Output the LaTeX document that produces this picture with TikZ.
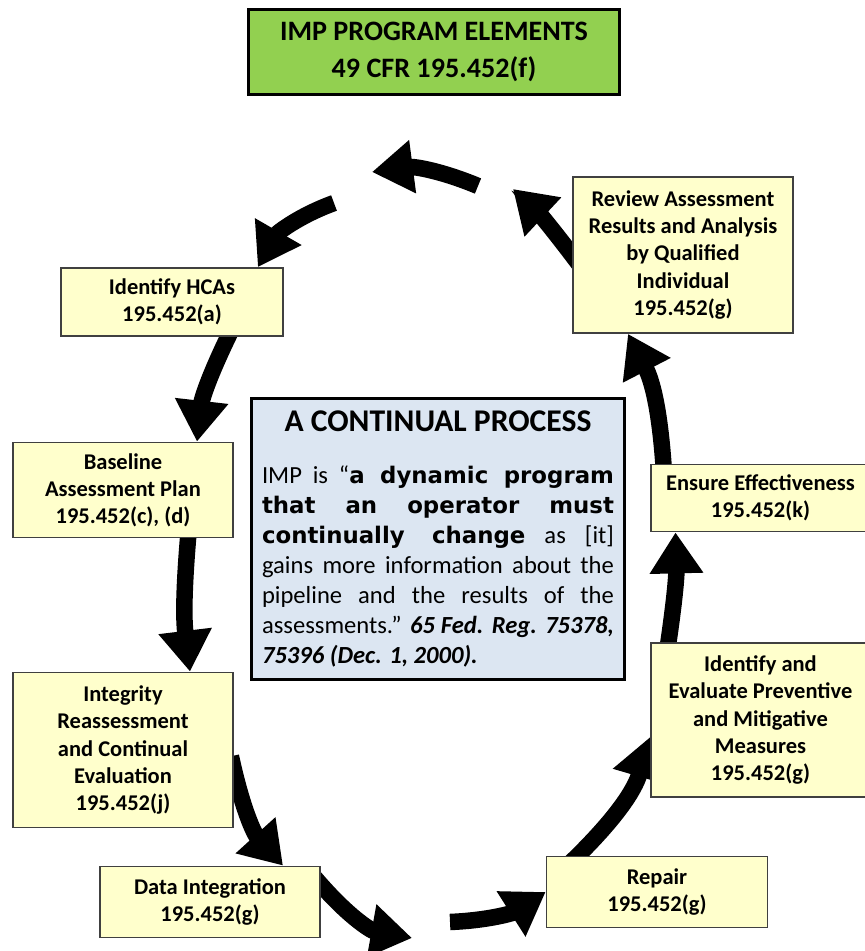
\documentclass[tikz,border=0pt]{standalone}
\usepackage{fontspec}
\setmainfont{Carlito}
\newfontfamily\quotefont{DejaVu Sans}
\usepackage{xcolor}
\usetikzlibrary{arrows.meta,calc,backgrounds}

\definecolor{elemgreen}{HTML}{92D050}
\definecolor{stepyellow}{HTML}{FFFFCC}
\definecolor{noteblue}{HTML}{DCE6F2}
\definecolor{stepedge}{HTML}{404040}

\begin{document}
\begin{tikzpicture}[x=0.02cm, y=-0.02cm,
		stepbox/.style={draw=stepedge, line width=1pt, fill=stepyellow, align=center, inner sep=2pt,
			font=\fontsize{12.8}{15.4}\selectfont\bfseries},
		looparrow/.style={line width=0.33cm, -{Triangle[width=1.02cm, length=0.82cm]}},
		fromnode/.style={shorten <=-8pt}]
		\useasboundingbox (0,0) rectangle (865,951);
		% heading
		\node[draw=black, line width=1.7pt, fill=elemgreen, minimum width=7.44cm, minimum height=1.7cm,
			align=center, font=\fontsize{16}{21}\selectfont\bfseries] (head) at (434,52)
			{IMP PROGRAM ELEMENTS\\49 CFR 195.452(f)};
		% program elements
		\node[stepbox, minimum width=4.4cm, minimum height=3.12cm] (review) at (683,255)
			{Review Assessment\\Results and Analysis\\by Qualified\\Individual\\195.452(g)};
		\node[stepbox, minimum width=4.44cm, minimum height=1.36cm] (hca) at (172,302)
			{Identify HCAs\\195.452(a)};
		\node[stepbox, minimum width=4.4cm, minimum height=1.9cm] (base) at (123,490)
			{Baseline\\Assessment Plan\\195.452(c), (d)};
		\node[stepbox, minimum width=4.4cm, minimum height=3.1cm] (integ) at (123,750)
			{Integrity\\Reassessment\\and Continual\\Evaluation\\195.452(j)};
		\node[stepbox, minimum width=4.4cm, minimum height=1.42cm] (data) at (210,902)
			{Data Integration\\195.452(g)};
		\node[stepbox, minimum width=4.42cm, minimum height=1.42cm] (repair) at (657,892)
			{Repair\\195.452(g)};
		\node[stepbox, minimum width=4.38cm, minimum height=3.08cm] (ie) at (760.5,720)
			{Identify and\\Evaluate Preventive\\and Mitigative\\Measures\\195.452(g)};
		\node[stepbox, minimum width=4.38cm, minimum height=1.34cm] (ens) at (760.5,498)
			{Ensure Effectiveness\\195.452(k)};
		% centre note
		\node[draw=black, line width=1.7pt, fill=noteblue, text width=7.04cm, inner xsep=0.21cm,
			minimum height=5.64cm, align=justify, font=\fontsize{14}{17.07}\selectfont] (note) at (438,539)
			{{\centering\bfseries\fontsize{18}{22}\selectfont A CONTINUAL PROCESS\par}\vspace{12.6pt}
			IMP is “{\quotefont\bfseries\fontsize{13}{17}\selectfont a dynamic program\linebreak
			that an operator must\linebreak continually change} as [it]\linebreak
			gains more information about the\linebreak pipeline and the results of the\linebreak
			assessments.” {\bfseries\itshape 65 Fed. Reg. 75378,\linebreak 75396 (Dec. 1, 2000).}};
		% free ends of the loop
		\coordinate (tipnw) at (513,189);
		\coordinate (topstart) at (478,186);
		\coordinate (topend) at (372,172);
		\coordinate (leftstart) at (334,203);
		\coordinate (bottomend) at (412,938);
		\coordinate (bottomstart) at (450,922);
		\begin{scope}[on background layer]
			\draw[looparrow, fromnode] (review.west) to[bend right=5] (tipnw);
			\draw[looparrow] (topstart) to[bend right=15] (topend);
			\draw[looparrow] (leftstart) to[bend right=20] ($(hca.north east)+(-26,0)$);
			\draw[looparrow, fromnode] ($(hca.south)+(56,0)$) to[bend right=10] ($(base.north)+(74,0)$);
			\draw[looparrow, fromnode] ($(base.south)+(65,0)$) to[bend right=6] ($(integ.north)+(67,0)$);
			\draw[looparrow, fromnode] ($(integ.east)+(0,20)$) to[bend right=15] ($(data.north)+(73,0)$);
			\draw[looparrow, fromnode] ($(data.east)+(0,-17)$) to[bend right=20] (bottomend);
			\draw[looparrow] (bottomstart) to[bend right=15] (repair.west);
			\draw[looparrow, fromnode] ($(repair.north)+(-79,0)$) to[bend right=15] ($(ie.west)+(0,17)$);
			\draw[looparrow, fromnode] ($(ie.north)+(-92,0)$) to[bend right=5] ($(ens.south)+(-85,0)$);
			\draw[looparrow, fromnode] ($(ens.north)+(-97,0)$) to[bend right=12] ($(review.south)+(-55,0)$);
		\end{scope}
\end{tikzpicture}
\end{document}
